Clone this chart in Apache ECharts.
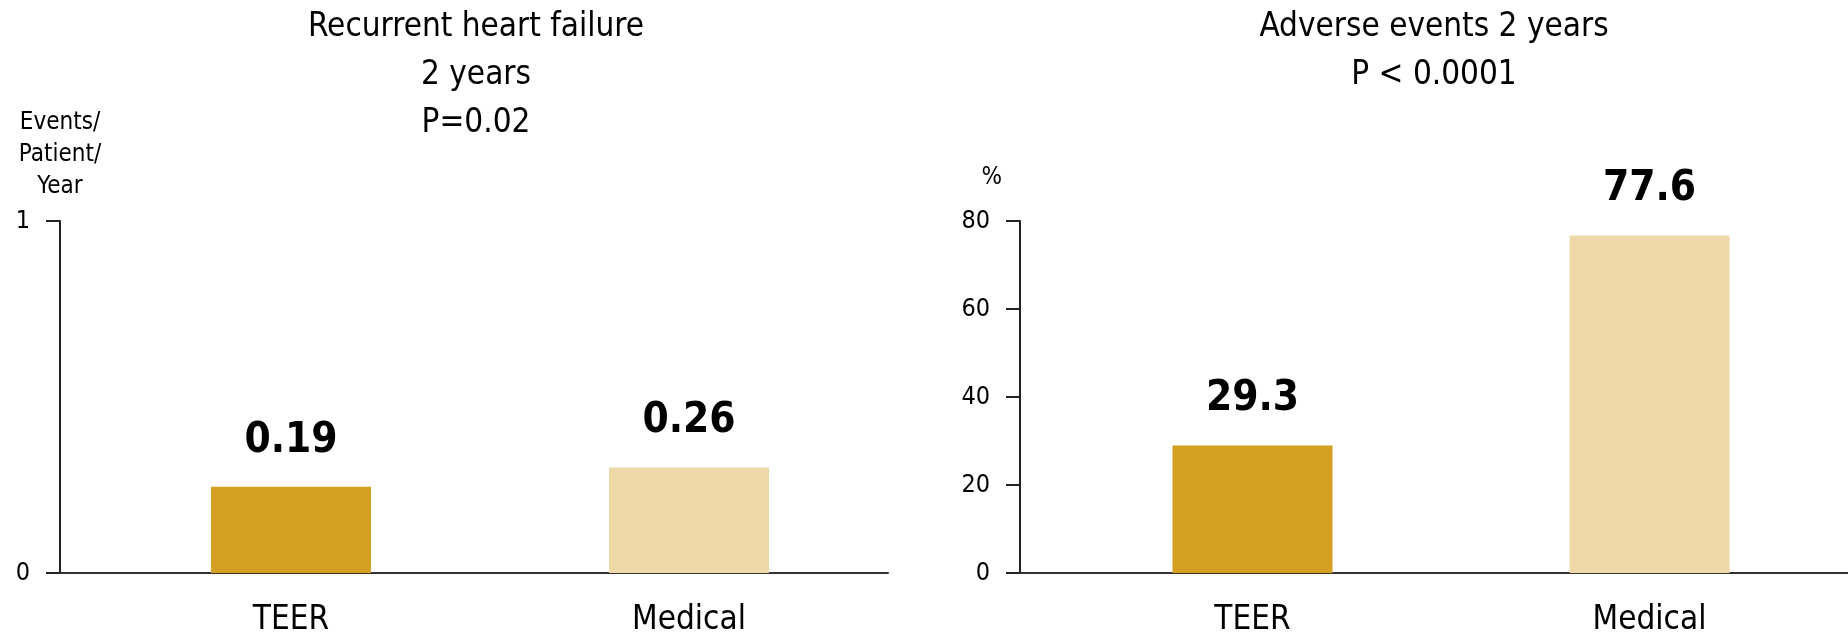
<!DOCTYPE html>
<html><head><meta charset="utf-8">
<script src="https://cdn.jsdelivr.net/npm/echarts@6/dist/echarts.min.js"></script>
<style>html,body{margin:0;padding:0;background:#fff}#c{width:1848px;height:641px}</style>
</head><body><div id="c"></div>
<script>
// ---- Data ----
const categories = ['TEER', 'Medical'];
// Left panel: recurrent heart failure, events/patient/year
const hfBarHeights = [0.245, 0.30];   // bar heights as drawn in the reference
const hfLabels = ['0.19', '0.26'];    // values printed above the bars
const hfTicks = [0, 1];
// Right panel: adverse events at 2 years, %
const aeBarHeights = [29.0, 76.7];    // bar heights as drawn in the reference
const aeLabels = ['29.3', '77.6'];    // values printed above the bars
const aeTicks = [0, 20, 40, 60, 80];
const barColors = ['#D4A021', '#EED8A8'];
const leftTitle = ['Recurrent heart failure', '2 years', 'P=0.02'];
const rightTitle = ['Adverse events 2 years', 'P < 0.0001'];
const leftAxisName = ['Events/', 'Patient/', 'Year'];
const rightAxisName = '%';

const FONT = "'DejaVu Sans Condensed', 'Liberation Sans', sans-serif";

function axisOnlyX(gridIndex) {
  return { type: 'category', gridIndex, data: [''],
    axisLine: { show: true, lineStyle: { color: '#333', width: 2 } },
    axisTick: { show: false }, axisLabel: { show: false }, splitLine: { show: false } };
}
function catX(gridIndex) {
  return { type: 'category', gridIndex, data: categories,
    axisLine: { show: false }, axisTick: { show: false }, splitLine: { show: false },
    axisLabel: { show: true, margin: 31, color: '#000', fontFamily: FONT, fontSize: 33 } };
}
function valueY(gridIndex, ticks, name, nameStyle, nameGap) {
  return { type: 'value', gridIndex, min: ticks[0], max: ticks[ticks.length - 1],
    interval: ticks[1] - ticks[0],
    axisLine: { show: true, lineStyle: { color: '#222', width: 2 } },
    axisTick: { show: true, length: 14, lineStyle: { color: '#222', width: 2 } },
    splitLine: { show: false },
    axisLabel: { margin: 30, color: '#000', fontFamily: FONT, fontSize: 25 },
    name, nameLocation: 'end', nameGap,
    nameTextStyle: Object.assign({ color: '#000', fontFamily: FONT, fontSize: 24 }, nameStyle) };
}
function hiddenY(gridIndex, ticks) {
  return { type: 'value', gridIndex, show: false, min: ticks[0], max: ticks[ticks.length - 1] };
}
function barSeries(xi, yi, values, labels) {
  return { type: 'bar', xAxisIndex: xi, yAxisIndex: yi, barWidth: 160,
    data: values.map((v, i) => ({ value: v, itemStyle: { color: barColors[i] } })),
    label: { show: true, position: 'top', distance: 25, color: '#000',
      fontFamily: FONT, fontSize: 42, fontWeight: 'bold', formatter: p => labels[p.dataIndex] } };
}
const titleStyle = { fontFamily: FONT, fontSize: 33, fontWeight: 'normal', lineHeight: 48, color: '#000' };

const chart = echarts.init(document.getElementById('c'), null, { renderer: 'canvas' });
chart.setOption({
  animation: false,
  backgroundColor: '#fff',
  title: [
    { text: leftTitle.join('\n'), left: 476, top: 3, padding: 0, textAlign: 'center', textStyle: titleStyle },
    { text: rightTitle.join('\n'), left: 1434, top: 3, padding: 0, textAlign: 'center', textStyle: titleStyle }
  ],
  grid: [
    { left: 60, top: 221, width: 828, height: 352 },
    { left: 92, top: 221, width: 796, height: 352 },
    { left: 1020, top: 221, width: 828, height: 352 },
    { left: 1054, top: 221, width: 794, height: 352 }
  ],
  xAxis: [axisOnlyX(0), catX(1), axisOnlyX(2), catX(3)],
  yAxis: [
    valueY(0, hfTicks, leftAxisName.join('\n'), { align: 'center', lineHeight: 32 }, 18),
    hiddenY(1, hfTicks),
    valueY(2, aeTicks, rightAxisName, { align: 'right', padding: [0, 18, 0, 0] }, 31),
    hiddenY(3, aeTicks)
  ],
  series: [
    barSeries(1, 1, hfBarHeights, hfLabels),
    barSeries(3, 3, aeBarHeights, aeLabels)
  ]
});
</script></body></html>
